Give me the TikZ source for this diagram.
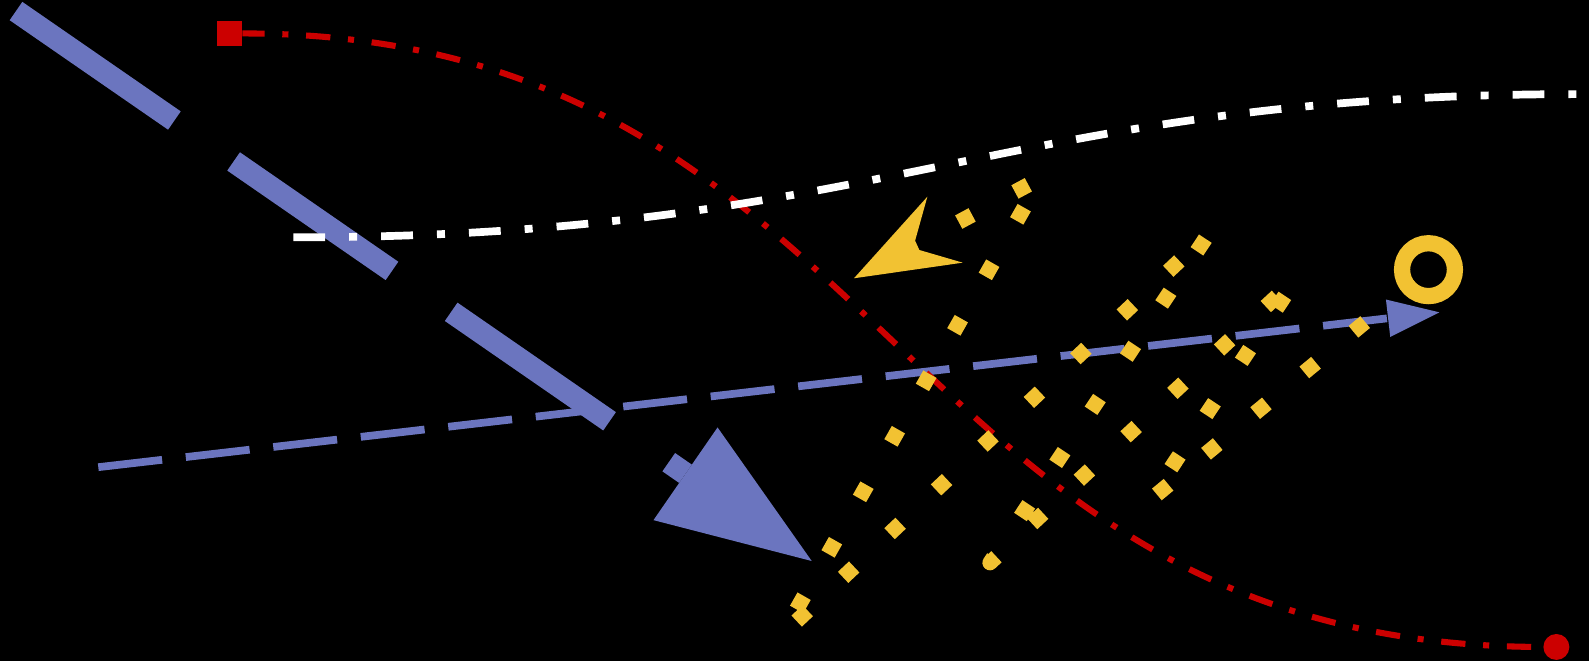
\documentclass[tikz,border=0pt]{standalone}
\usetikzlibrary{arrows.meta}
\definecolor{bl}{RGB}{107,117,191}
\definecolor{rd}{RGB}{204,0,0}
\definecolor{yl}{RGB}{242,194,50}
\begin{document}
\begin{tikzpicture}[x=1pt,y=-1pt,
  bluethick/.style={draw=bl, line width=22pt, dash pattern=on 190pt off 71pt},
  bluethin/.style={draw=bl, line width=7.6pt, dash pattern=on 63.4pt off 23.5pt},
  redline/.style={draw=rd, line width=6pt, dash pattern=on 24pt off 17.5pt on 6pt off 17.5pt, dash phase=2pt},
  yelline/.style={draw=yl, line width=15pt, line join=round, dash pattern=on 15pt off 47.95pt, dash phase=38.6pt},
  whiteline/.style={draw=white, line width=7.6pt, dash pattern=on 31.4pt off 23.7pt on 7.9pt off 23.7pt},
  ringnode/.style={circle, draw=yl, line width=16pt, minimum size=52.2pt, inner sep=0pt, outer sep=0pt},
]
\fill[black] (0,0) rectangle (1568,652);
\useasboundingbox (0,0) rectangle (1568,652);
% coordinates
\coordinate (bt0) at (15.8,10.9);
\coordinate (bt1) at (801,553.6);
\coordinate (bn0) at (97,461);
\coordinate (bn1) at (1420.3,308.2);
\coordinate (r0) at (213.8,33);
\coordinate (r1) at (1548.6,638.4);
\coordinate (w0) at (289.4,234.2);
\coordinate (w1) at (1557,92.9);
\coordinate (y0) at (842.7,274.6);
\coordinate (y0s) at (869.1,260.4);
\coordinate (y1) at (1027.3,175.6);
\coordinate (y2) at (772,626.2);
\coordinate (y3) at (1193.4,229.5);
\coordinate (y4) at (976.9,555.3);
\coordinate (y5) at (1279.6,274.2);
\coordinate (y6) at (1134.2,494.0);
\coordinate (yc) at (1409.6,266.1);
\coordinate (sa2) at (915.1,194.1);
\coordinate (sa3) at (903,237.5);
\coordinate (sa4) at (907.2,246.7);
\coordinate (sa5) at (950,259.2);
% thick blue arrow
\draw[bluethick, -{Triangle[length=151.4pt,width=111.2pt,line width=0pt]}] (bt0) -- (bt1);
% thin blue dashed arrow
\draw[bluethin, -{Triangle[length=50.9pt,width=37.2pt,line width=0pt]}] (bn0) -- (bn1);
% red dash-dot curve
\draw[redline, {Square[length=25.3pt,width=25pt,line width=0pt]}-{Circle[length=25.6pt,line width=0pt]}]
  (r0) .. controls (882.5,33) and (876.7,638.4) .. (r1);
% yellow dotted zigzag
\draw[yelline] (y0s) -- (y1) -- (y2) -- (y3) -- (y4) -- (y5) -- (y6) -- (yc);
\fill[yl] (y0) -- (sa2) -- (sa3) -- (sa4) -- (sa5) -- cycle;
\node[ringnode] (ring) at (yc) {};
% white dash-dot curve
\draw[whiteline] (w0) .. controls (876,234.2) and (988.5,92.9) .. (w1);
\end{tikzpicture}
\end{document}
